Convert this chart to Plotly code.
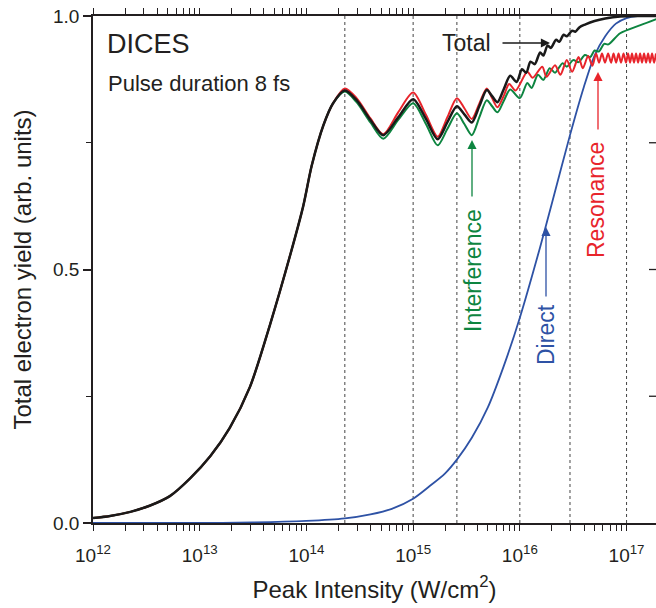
import plotly.graph_objects as go

# ---------------- data (x given as log10 of peak intensity in W/cm^2) ----------------
rise_logI = [12.00, 12.16, 12.35, 12.53, 12.72, 12.91, 13.10, 13.28, 13.47, 13.66, 13.85, 13.97, 14.05, 14.16, 14.25]
rise_yield = [0.010, 0.014, 0.022, 0.034, 0.053, 0.088, 0.132, 0.187, 0.268, 0.392, 0.530, 0.625, 0.705, 0.785, 0.828]

total_logI = rise_logI + [14.36, 14.47, 14.60, 14.72, 14.86, 15.00, 15.12, 15.23, 15.32, 15.41, 15.48, 15.55,
                          15.62, 15.69, 15.74, 15.79, 15.85, 15.91, 15.97, 16.02, 16.06, 16.10, 16.14, 16.19,
                          16.22, 16.26, 16.29, 16.34, 16.37, 16.41, 16.44, 16.49, 16.52, 16.56, 16.61, 16.70,
                          16.80, 16.94, 17.13, 17.28]
total_yield = rise_yield + [0.853, 0.834, 0.795, 0.765, 0.800, 0.836, 0.797, 0.757, 0.790, 0.822, 0.806, 0.790,
                            0.822, 0.854, 0.842, 0.830, 0.856, 0.882, 0.870, 0.895, 0.888, 0.910, 0.905, 0.928,
                            0.922, 0.942, 0.937, 0.953, 0.949, 0.963, 0.960, 0.971, 0.969, 0.978, 0.983, 0.990,
                            0.995, 0.999, 1.000, 1.000]

resonance_logI = rise_logI + [14.36, 14.47, 14.60, 14.72, 14.86, 15.00, 15.12, 15.23, 15.32, 15.41, 15.48, 15.55,
                              15.62, 15.69, 15.74, 15.79, 15.85, 15.90, 15.96, 16.07, 16.12, 16.21, 16.25, 16.33,
                              16.38, 16.44, 16.49, 16.55, 16.59, 16.64, 16.68, 16.714, 16.742, 16.770, 16.798,
                              16.827, 16.855, 16.878, 16.902, 16.925, 16.948, 16.972, 16.995, 17.014, 17.033,
                              17.051, 17.070, 17.089, 17.108, 17.127, 17.145, 17.164, 17.183, 17.202, 17.220,
                              17.239, 17.258, 17.276]
resonance_yield = rise_yield + [0.857, 0.838, 0.798, 0.767, 0.810, 0.849, 0.805, 0.762, 0.800, 0.838, 0.818, 0.797,
                                0.827, 0.857, 0.838, 0.820, 0.843, 0.866, 0.853, 0.890, 0.878, 0.900, 0.880, 0.903,
                                0.884, 0.913, 0.890, 0.919, 0.897, 0.921, 0.902, 0.926, 0.908, 0.926, 0.908,
                                0.926, 0.908, 0.926, 0.908, 0.926, 0.908, 0.926, 0.908, 0.926, 0.908,
                                0.926, 0.908, 0.926, 0.908, 0.926, 0.908, 0.926, 0.908, 0.926, 0.908,
                                0.926, 0.908, 0.926]

interference_logI = rise_logI + [14.36, 14.47, 14.60, 14.72, 14.86, 15.00, 15.12, 15.23, 15.32, 15.41, 15.48, 15.55,
                                 15.62, 15.69, 15.74, 15.79, 15.85, 15.91, 16.00, 16.07, 16.11, 16.17, 16.22, 16.28,
                                 16.33, 16.40, 16.44, 16.50, 16.55, 16.61, 16.66, 16.70, 16.74, 16.79, 16.83,
                                 16.94, 17.13, 17.28]
interference_yield = rise_yield + [0.851, 0.830, 0.790, 0.758, 0.795, 0.828, 0.787, 0.745, 0.777, 0.808, 0.787, 0.765,
                                   0.800, 0.834, 0.822, 0.810, 0.833, 0.855, 0.838, 0.868, 0.858, 0.884, 0.874, 0.897,
                                   0.888, 0.907, 0.900, 0.913, 0.909, 0.923, 0.919, 0.932, 0.930, 0.945, 0.944,
                                   0.966, 0.982, 0.994]

direct_logI = [12.00, 13.00, 13.50, 14.00, 14.36, 14.60, 14.80, 15.00, 15.15, 15.30, 15.41, 15.55, 15.70, 15.85,
               16.00, 16.19, 16.30, 16.47, 16.60, 16.70, 16.80, 16.90, 17.00, 17.10, 17.28]
direct_yield = [0.000, 0.000, 0.001, 0.004, 0.009, 0.017, 0.028, 0.048, 0.072, 0.098, 0.125, 0.168, 0.228, 0.310,
                0.405, 0.544, 0.630, 0.765, 0.860, 0.922, 0.960, 0.985, 0.996, 1.000, 1.000]

dotted_logI = [14.36, 15.00, 15.41, 16.00, 16.47, 17.00]

x_tick_exponents = [12, 13, 14, 15, 16, 17]
x_minor_mantissas = [2, 3, 4, 5, 6, 7, 8, 9]
y_ticks = [0.0, 0.5, 1.0]
y_tick_text = ["0.0", "0.5", "1.0"]
y_minor_ticks = [0.25, 0.75]
y_right_ticks = [0.25, 0.5, 0.75]

# ---------------- figure ----------------
FONT = "Liberation Sans, Arial, Helvetica, sans-serif"
TXT = "#231f20"
BLACK = "#1a1a1a"
RED = "#e8242b"
GREEN = "#0d8540"
BLUE = "#2e52a5"
X_RANGE = [12, 17.276]

L, R, T, B = 93, 0, 16, 85
W, H = 656, 608
PW, PH = W - L - R, H - T - B

def lin(vals):
    return [10 ** v for v in vals]

# all x ticks (decades labelled, 2..9 sub-ticks unlabelled)
x_tickvals, x_ticktext = [], []
for e in x_tick_exponents:
    x_tickvals.append(10 ** e)
    x_ticktext.append("10<sup>%d</sup>" % e)
    for m in x_minor_mantissas:
        if m * 10 ** e < 10 ** X_RANGE[1]:
            x_tickvals.append(m * 10 ** e)
            x_ticktext.append("")

fig = go.Figure()

# dotted guide lines
dx, dy = [], []
for v in dotted_logI:
    dx += [10 ** v, 10 ** v, None]
    dy += [0, 1, None]
fig.add_trace(go.Scatter(x=dx, y=dy, mode="lines",
                         line=dict(color="#444444", width=1, dash="dot"),
                         hoverinfo="skip", showlegend=False))

fig.add_trace(go.Scatter(x=lin(direct_logI), y=direct_yield, mode="lines", name="Direct",
                         line=dict(color=BLUE, width=1.8, shape="spline", smoothing=0.8), showlegend=False))
fig.add_trace(go.Scatter(x=lin(interference_logI), y=interference_yield, mode="lines", name="Interference",
                         line=dict(color=GREEN, width=2, shape="spline", smoothing=0.8), showlegend=False))
fig.add_trace(go.Scatter(x=lin(resonance_logI), y=resonance_yield, mode="lines", name="Resonance",
                         line=dict(color=RED, width=2, shape="spline", smoothing=0.8), showlegend=False))
fig.add_trace(go.Scatter(x=lin(total_logI), y=total_yield, mode="lines", name="Total",
                         line=dict(color=BLACK, width=2.5, shape="spline", smoothing=0.8), showlegend=False))

fig.update_layout(
    width=W, height=H,
    margin=dict(l=L, r=R, t=T, b=B, pad=0),
    paper_bgcolor="white", plot_bgcolor="white",
    font=dict(family=FONT, color=TXT, size=18),
    xaxis=dict(type="log", range=X_RANGE, showgrid=False, zeroline=False,
               tickvals=x_tickvals, ticktext=x_ticktext,
               ticks="outside", ticklen=6, tickwidth=1.4, tickcolor=TXT, ticklabelstandoff=8,
               showline=True, mirror="allticks", linecolor=TXT, linewidth=1.8,
               tickfont=dict(size=19, family=FONT, color=TXT),
               title=dict(text="Peak Intensity (W/cm<sup>2</sup>)", font=dict(size=24, family=FONT, color=TXT),
                          standoff=16)),
    yaxis=dict(range=[0, 1], showgrid=False, zeroline=False,
               tickvals=y_ticks, ticktext=y_tick_text,
               ticks="outside", ticklen=8, tickwidth=1.5, tickcolor=TXT,
               minor=dict(ticks="outside", ticklen=5, tickwidth=1.2, tickcolor=TXT, tickvals=y_minor_ticks,
                          showgrid=False),
               showline=True, linecolor=TXT, linewidth=1.8,
               tickfont=dict(size=19, family=FONT, color=TXT),
               title=dict(text="Total electron yield (arb. units)", font=dict(size=24, family=FONT, color=TXT),
                          standoff=14)),
)

# inward ticks at the right edge
shapes = []
for v in y_right_ticks:
    shapes.append(dict(type="line", xref="paper", yref="y", x0=1, x1=1 - 7 / PW, y0=v, y1=v,
                       line=dict(color=TXT, width=1.3)))
fig.update_layout(shapes=shapes)

def px2paper(px, py):
    return (px - L) / PW, (H - B - py) / PH

annotations = []

def add_text(px, py, text, size, color, angle=0, xanchor="center", yanchor="middle"):
    xp, yp = px2paper(px, py)
    annotations.append(dict(x=xp, y=yp, xref="paper", yref="paper", text=text, showarrow=False,
                            textangle=angle, xanchor=xanchor, yanchor=yanchor,
                            font=dict(size=size, color=color, family=FONT)))

def add_arrow(tip_px, tip_py, tail_px, tail_py, color):
    xp, yp = px2paper(tip_px, tip_py)
    annotations.append(dict(x=xp, y=yp, xref="paper", yref="paper", text="", showarrow=True,
                            ax=tail_px - tip_px, ay=tail_py - tip_py, axref="pixel", ayref="pixel",
                            arrowhead=2, arrowsize=1.4, arrowwidth=1.3, arrowcolor=color))

add_text(105, 44, "DICES", 27, TXT, xanchor="left")
add_text(106, 83, "Pulse duration 8 fs", 22, TXT, xanchor="left")
add_text(466, 43, "Total", 23, TXT)
add_arrow(550, 43, 501, 43, BLACK)
add_text(473, 270, "Interference", 23, GREEN, angle=-90)
add_arrow(472, 140, 472, 198, GREEN)
add_text(546, 335, "Direct", 23, BLUE, angle=-90)
add_arrow(546, 227, 546, 298, BLUE)
add_text(596, 200, "Resonance", 23, RED, angle=-90)
add_arrow(598, 72, 598, 131, RED)

fig.update_layout(annotations=annotations)

fig.write_html("out.html")
